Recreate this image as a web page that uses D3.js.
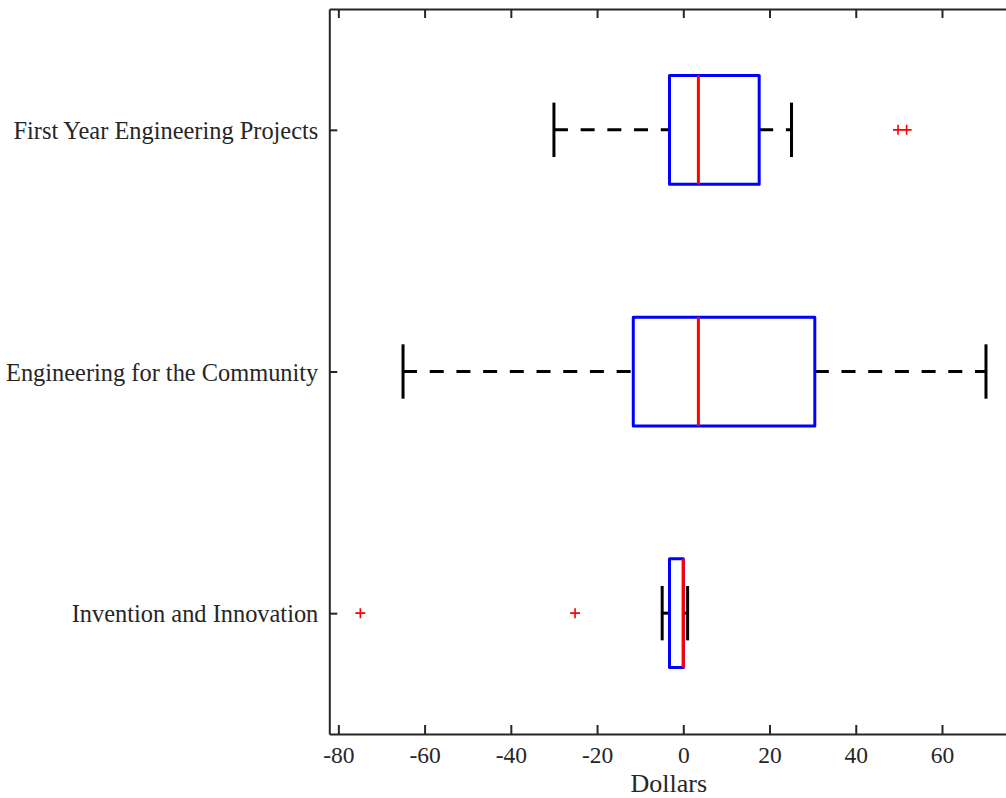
<!DOCTYPE html>
<html>
<head>
<meta charset="utf-8">
<script src="https://cdn.jsdelivr.net/npm/d3@7"></script>
<style>
  html, body { margin: 0; padding: 0; background: #ffffff; }
  svg { display: block; }
</style>
</head>
<body>
<svg id="chart" width="1006" height="798"></svg>
<script>
// ---- data ----
const categories = ["First Year Engineering Projects", "Engineering for the Community", "Invention and Innovation"];
const lowerWhisker = [-30, -65, -4.9];
const q1 = [-3.2, -11.6, -3.2];
const median = [3.5, 3.5, 0];
const q3 = [17.6, 30.5, 0];
const upperWhisker = [25.1, 70.2, 1.0];
const outliers = [[49.8, 51.8], [], [-74.9, -25.1]];
const xTicks = [-80, -60, -40, -20, 0, 20, 40, 60];
const xTickLabels = ["-80", "-60", "-40", "-20", "0", "20", "40", "60"];
const xLabel = "Dollars";

// ---- layout ----
const svg = d3.select("#chart");
const plotLeft = 329.3, plotRight = 1008.4, plotTop = 9, plotBottom = 734;
const axisColor = "#262626";
const font = "'Liberation Serif', 'Times New Roman', serif";

const x = d3.scaleLinear().domain([-82.1, 75.4]).range([plotLeft, plotRight]);
const y = d3.scalePoint().domain(categories).range([plotTop, plotBottom]).padding(0.5);
const step = y.step();
const boxHalf = step * 0.225;
const capHalf = step * 0.1125;

const rows = categories.map((c, i) => ({
  c, lo: lowerWhisker[i], q1: q1[i], med: median[i], q3: q3[i], hi: upperWhisker[i], out: outliers[i]
}));

const g = svg.append("g");

// whiskers (dashed)
g.selectAll("line.wlo").data(rows).join("line")
  .attr("x1", d => x(d.lo)).attr("x2", d => x(d.q1))
  .attr("y1", d => y(d.c)).attr("y2", d => y(d.c))
  .attr("stroke", "#000").attr("stroke-width", 3).attr("stroke-dasharray", "14,12.7");
g.selectAll("line.whi").data(rows).join("line")
  .attr("x1", d => x(d.q3)).attr("x2", d => x(d.hi))
  .attr("y1", d => y(d.c)).attr("y2", d => y(d.c))
  .attr("stroke", "#000").attr("stroke-width", 3).attr("stroke-dasharray", "14,12.7");

// caps
["lo", "hi"].forEach(k => {
  g.selectAll("line.cap" + k).data(rows).join("line")
    .attr("x1", d => x(d[k])).attr("x2", d => x(d[k]))
    .attr("y1", d => y(d.c) - capHalf).attr("y2", d => y(d.c) + capHalf)
    .attr("stroke", "#000").attr("stroke-width", 3);
});

// boxes
g.selectAll("rect.box").data(rows).join("rect")
  .attr("x", d => x(d.q1)).attr("width", d => x(d.q3) - x(d.q1))
  .attr("y", d => y(d.c) - boxHalf).attr("height", 2 * boxHalf)
  .attr("fill", "none").attr("stroke", "#0000ff").attr("stroke-width", 3)
  .attr("stroke-linejoin", "round");

// medians
g.selectAll("line.med").data(rows).join("line")
  .attr("x1", d => x(d.med)).attr("x2", d => x(d.med))
  .attr("y1", d => y(d.c) - boxHalf).attr("y2", d => y(d.c) + boxHalf)
  .attr("stroke", "#ff0000").attr("stroke-width", 3);

// outliers (+)
const outPts = [];
rows.forEach(d => d.out.forEach(v => outPts.push({ c: d.c, v })));
g.selectAll("path.out").data(outPts).join("path")
  .attr("d", d => {
    const cx = x(d.v), cy = y(d.c), s = 5;
    return `M${cx - s},${cy}H${cx + s}M${cx},${cy - s}V${cy + s}`;
  })
  .attr("stroke", "#ff0000").attr("stroke-width", 1.6).attr("fill", "none");

// ---- axes ----
const bottomAxis = svg.append("g").attr("transform", `translate(0,${plotBottom})`)
  .call(d3.axisBottom(x).tickValues(xTicks).tickFormat((d, i) => xTickLabels[i]).tickSizeInner(-9).tickSizeOuter(0));
bottomAxis.selectAll("text").attr("y", 29).attr("dy", 0)
  .attr("font-family", font).attr("font-size", 23.5).attr("fill", axisColor);

const topAxis = svg.append("g").attr("transform", `translate(0,${plotTop})`)
  .call(d3.axisTop(x).tickValues(xTicks).tickSizeInner(-9).tickSizeOuter(0).tickFormat(""));

const leftAxis = svg.append("g").attr("transform", `translate(${plotLeft},0)`)
  .call(d3.axisLeft(y).tickSizeInner(-8).tickSizeOuter(0));
leftAxis.selectAll("text").attr("x", -11).attr("dy", 0).attr("y", 8.5)
  .attr("font-family", font).attr("font-size", 24.4).attr("fill", axisColor);

[bottomAxis, topAxis, leftAxis].forEach(a => {
  a.select(".domain").attr("stroke", axisColor).attr("stroke-width", 2);
  a.selectAll(".tick line").attr("stroke", axisColor).attr("stroke-width", 2);
});

// x label
svg.append("text")
  .attr("x", (plotLeft + plotRight) / 2).attr("y", 792)
  .attr("text-anchor", "middle")
  .attr("font-family", font).attr("font-size", 26).attr("fill", axisColor)
  .text(xLabel);
</script>
</body>
</html>
